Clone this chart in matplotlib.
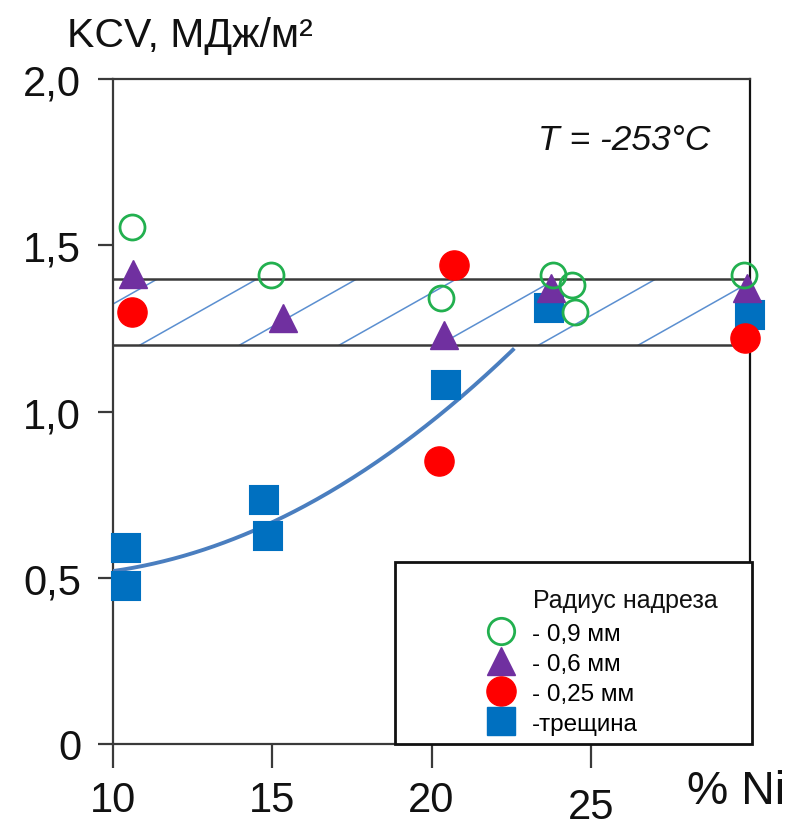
import numpy as np
import matplotlib
matplotlib.use("Agg")
import matplotlib.pyplot as plt
from matplotlib.lines import Line2D
from matplotlib.patches import Rectangle
import matplotlib.transforms as mtransforms

plt.rcParams['font.family'] = ['Liberation Sans', 'DejaVu Sans']

# ---- data ----
x_09 = [10.6, 14.95, 20.3, 23.8, 24.4, 24.5, 29.8]
y_09 = [1.555, 1.41, 1.34, 1.41, 1.38, 1.30, 1.41]

x_06 = [10.63, 15.35, 20.4, 23.75, 29.9]
y_06 = [1.415, 1.28, 1.23, 1.37, 1.37]

x_025 = [10.6, 20.7, 20.25, 29.85]
y_025 = [1.30, 1.44, 0.85, 1.22]

x_crack = [10.4, 10.4, 14.75, 14.87, 20.45, 23.7, 30.0]
y_crack = [0.59, 0.475, 0.735, 0.625, 1.08, 1.31, 1.29]

# trend curve read at several points
curve_x = [10, 12, 14, 16, 18, 20, 22, 22.6]
curve_y = [0.52, 0.56, 0.625, 0.715, 0.83, 0.97, 1.135, 1.19]

band_low, band_high = 1.2, 1.4

xticks = [10, 15, 20, 25]
xtick_labels = ['10', '15', '20', '25']
yticks = [0, 0.5, 1.0, 1.5, 2.0]
ytick_labels = ['0', '0,5', '1,0', '1,5', '2,0']

legend_labels = ['- 0,9 мм', '- 0,6 мм', '- 0,25 мм', '-трещина']

# ---- figure ----
W, H = 785, 829
fig = plt.figure(figsize=(W / 100, H / 100), dpi=100)
L, R, T, B = 113, 750, 80, 745
ax = fig.add_axes([L / W, 1 - B / H, (R - L) / W, (B - T) / H])
ax.set_xlim(10, 30)
ax.set_ylim(0, 2.0)

spine_c = '#3a3a3a'
for s in ax.spines.values():
    s.set_linewidth(1.6)
    s.set_color(spine_c)
ax.spines['right'].set_color('#111111')

ax.set_xticks(xticks)
ax.set_xticklabels(xtick_labels)
ax.set_yticks(yticks)
ax.set_yticklabels(ytick_labels)
ax.tick_params(axis='x', direction='out', length=17, width=1.6, color=spine_c,
               labelsize=30, pad=9, labelcolor='#111111')
ax.tick_params(axis='y', direction='out', length=11, width=1.6, color=spine_c,
               labelsize=30, pad=12, labelcolor='#111111')
# the "25" label sits a little lower in the reference
lbl25 = ax.get_xticklabels()[3]
lbl25.set_transform(lbl25.get_transform() +
                    mtransforms.ScaledTranslation(0, -0.07, fig.dpi_scale_trans))

# band with sparse hatching
ax.axhline(band_high, color='#3a3a3a', lw=1.8, zorder=2)
ax.axhline(band_low, color='#3a3a3a', lw=1.8, zorder=2)
clip = Rectangle((10, band_low), 20, band_high - band_low, transform=ax.transData)
hatch_dx = 3.7
hatch_step = 3.13
for x0 in np.arange(10.85 - hatch_step, 30, hatch_step):
    ln, = ax.plot([x0, x0 + hatch_dx], [band_low, band_high], color='#5b8fd0',
                  lw=1.1, zorder=1)
    ln.set_clip_path(clip)

# trend curve
coef = np.polyfit(curve_x, curve_y, 2)
xs = np.linspace(curve_x[0], curve_x[-1], 200)
ax.plot(xs, np.polyval(coef, xs), color='#4a7ebf', lw=2.8, zorder=3,
        solid_capstyle='butt')

green = '#22b04f'
purple = '#7030a0'
red = '#ff0000'
blue = '#0070c0'

pts = []
pts.append(ax.plot(x_crack, y_crack, 's', ms=20.5, color=blue, mew=1.5,
                   linestyle='none', zorder=4)[0])
pts.append(ax.plot(x_025, y_025, 'o', ms=21, color=red, linestyle='none', zorder=5)[0])
pts.append(ax.plot(x_06, y_06, '^', ms=20, color=purple, linestyle='none', zorder=6)[0])
pts.append(ax.plot(x_09, y_09, 'o', ms=18, mfc='none', mec=green, mew=2,
                   linestyle='none', zorder=7)[0])
for p in pts:
    p.set_clip_on(False)

# texts
fig.text(67 / W, 1 - 36 / H, 'KCV, МДж/м²', fontsize=29.5, ha='left', va='center',
         color='#111111')
fig.text(538 / W, 1 - 140 / H, 'T = -253°C', fontsize=25.5, ha='left', va='center',
         color='#111111', style='italic')
fig.text(687 / W, 1 - 792 / H, '% Ni', fontsize=33.5, ha='left', va='center',
         color='#111111')

# legend box
box = Rectangle((395 / W, 1 - 745 / H), (752 - 395) / W, (745 - 563) / H,
                transform=fig.transFigure, facecolor='white', edgecolor='#111111',
                lw=2, zorder=8)
fig.add_artist(box)
fig.text(533 / W, 1 - 601 / H, 'Радиус надреза', fontsize=18, ha='left',
         va='center', color='#111111', zorder=9)

handles = [
    Line2D([], [], marker='o', ms=19, mfc='none', mec=green, mew=2, linestyle='none'),
    Line2D([], [], marker='^', ms=20, color=purple, linestyle='none'),
    Line2D([], [], marker='o', ms=21, color=red, linestyle='none'),
    Line2D([], [], marker='s', ms=20.5, color=blue, linestyle='none'),
]
leg = fig.legend(handles, legend_labels, loc='upper left',
                 bbox_to_anchor=(466 / W, 1 - 602 / H), bbox_transform=fig.transFigure,
                 frameon=False, fontsize=17.5, handlelength=1.1, handletextpad=0.7,
                 labelspacing=0.33, borderpad=0.4)
leg.set_zorder(10)

fig.savefig('out.png', dpi=100)
